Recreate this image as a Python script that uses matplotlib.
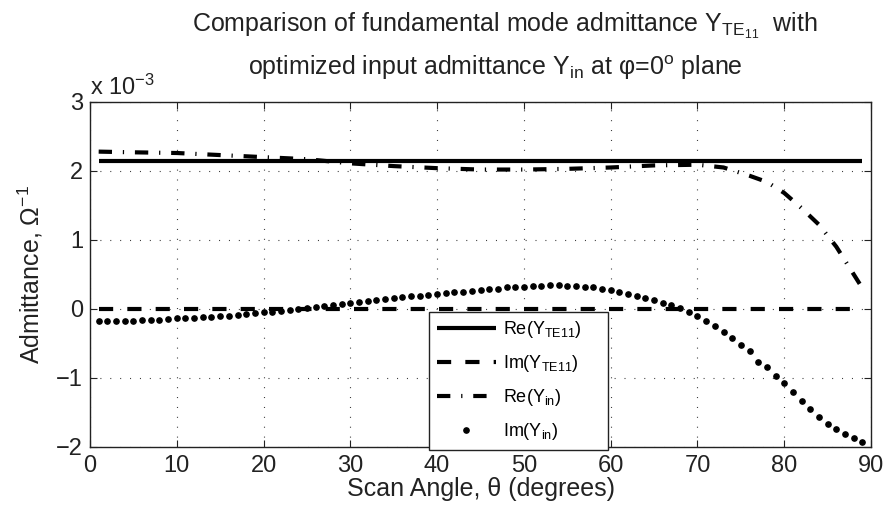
import matplotlib
matplotlib.use("Agg")
import matplotlib.pyplot as plt
import numpy as np

plt.rcParams['font.family'] = ['Liberation Sans', 'DejaVu Sans']
plt.rcParams['mathtext.fontset'] = 'custom'
plt.rcParams['mathtext.rm'] = 'Liberation Sans'
plt.rcParams['mathtext.it'] = 'Liberation Sans:italic'
plt.rcParams['mathtext.bf'] = 'Liberation Sans:bold'

# values in units of 1e-3 S
te_angles = [1, 89]
re_yte11 = [2.15, 2.15]
im_yte11 = [0.0, 0.0]

re_in_angles = [1, 5, 10, 15, 20, 25, 30, 35, 40, 45, 50, 55, 60, 65, 70, 73, 76,
                78, 80, 82, 84, 86, 88, 89]
re_yin = [2.28, 2.27, 2.26, 2.23, 2.20, 2.17, 2.11, 2.07, 2.04, 2.02, 2.02, 2.03,
          2.05, 2.08, 2.09, 2.05, 1.93, 1.84, 1.68, 1.46, 1.22, 0.90, 0.50, 0.30]

im_in_angles = list(range(1, 90))
im_yin = [-0.17, -0.17, -0.17, -0.17, -0.17, -0.16, -0.16, -0.16, -0.15, -0.14,
          -0.14, -0.13, -0.12, -0.12, -0.11, -0.10, -0.09, -0.07, -0.06, -0.05,
          -0.04, -0.03, -0.02, 0.00, 0.01, 0.03, 0.04, 0.06, 0.07, 0.09,
          0.10, 0.11, 0.13, 0.14, 0.15, 0.17, 0.18, 0.19, 0.20, 0.21,
          0.23, 0.24, 0.25, 0.26, 0.27, 0.28, 0.29, 0.31, 0.32, 0.32,
          0.33, 0.33, 0.34, 0.34, 0.33, 0.33, 0.32, 0.31, 0.29, 0.27,
          0.25, 0.22, 0.19, 0.16, 0.13, 0.09, 0.05, 0.01, -0.05, -0.10,
          -0.18, -0.25, -0.33, -0.42, -0.53, -0.61, -0.77, -0.85, -0.98, -1.08,
          -1.20, -1.34, -1.45, -1.57, -1.67, -1.75, -1.82, -1.88, -1.93]

xticks = [0, 10, 20, 30, 40, 50, 60, 70, 80, 90]
yticks = [-2, -1, 0, 1, 2, 3]

fig = plt.figure(figsize=(8.91, 5.12), dpi=100)
ax = fig.add_axes([0.101, 0.1276, 0.8766, 0.6732])

lw = 3.0
ax.plot(te_angles, re_yte11, color='black', lw=lw, solid_capstyle='butt',
        label='Re(Y$_{\\mathrm{TE11}}$)', zorder=3)
ax.plot(te_angles, im_yte11, color='black', lw=lw, dashes=(3.4, 3.4),
        dash_capstyle='butt', label='Im(Y$_{\\mathrm{TE11}}$)', zorder=3)
ax.plot(re_in_angles, re_yin, color='black', lw=lw, dashes=(3.2, 2.6, 0.3, 2.6),
        dash_capstyle='butt', label='Re(Y$_{\\mathrm{in}}$)', zorder=3)
ax.plot(im_in_angles, im_yin, linestyle='none', marker='o', markersize=3.8,
        color='black', label='Im(Y$_{\\mathrm{in}}$)', zorder=3)

ax.set_xlim(0, 90)
ax.set_ylim(-2, 3)
ax.set_xticks(xticks)
ax.set_yticks(yticks)
ax.set_yticklabels(['\u22122', '\u22121', '0', '1', '2', '3'])
ax.tick_params(direction='in', length=5, width=0.8, top=True, right=True,
               labelsize=17, colors='#222222')
ax.tick_params(axis='x', pad=6)
ax.tick_params(axis='y', pad=5)
ax.grid(True, color='#333333', linestyle=(0, (0.9, 8.0)), linewidth=0.8)
for s in ax.spines.values():
    s.set_linewidth(1.0)
    s.set_color('#222222')

ax.set_xlabel('Scan Angle, \u03b8 (degrees)', fontsize=18, labelpad=0, color='#222222')
ax.set_ylabel('Admittance, $\\Omega^{-1}$', fontsize=18, labelpad=8, color='#222222')

fig.text(0.101, 1 - 95/512, 'x 10$^{-3}$', fontsize=17, ha='left', va='baseline',
         color='#222222')

fig.text(505/891, 1 - 32/512, 'Comparison of fundamental mode admittance Y$_{\\mathrm{TE}_{11}}$  with',
         fontsize=18, ha='center', va='baseline', color='#222222')
fig.text(495/891, 1 - 75/512, 'optimized input admittance Y$_{\\mathrm{in}}$ at \u03c6=0$^{\\mathrm{o}}$ plane',
         fontsize=18, ha='center', va='baseline', color='#222222')

leg = ax.legend(loc='lower left', bbox_to_anchor=(429/891, 62/512, 179/891, 138/512),
                bbox_transform=fig.transFigure, mode='expand', borderaxespad=0,
                fontsize=13, frameon=True, fancybox=False, framealpha=1,
                edgecolor='#222222', handlelength=3.3, labelspacing=0.72,
                borderpad=0.42, handletextpad=0.4)
leg.get_frame().set_linewidth(1.0)
leg.set_zorder(5)

fig.savefig('out.png', dpi=100)
